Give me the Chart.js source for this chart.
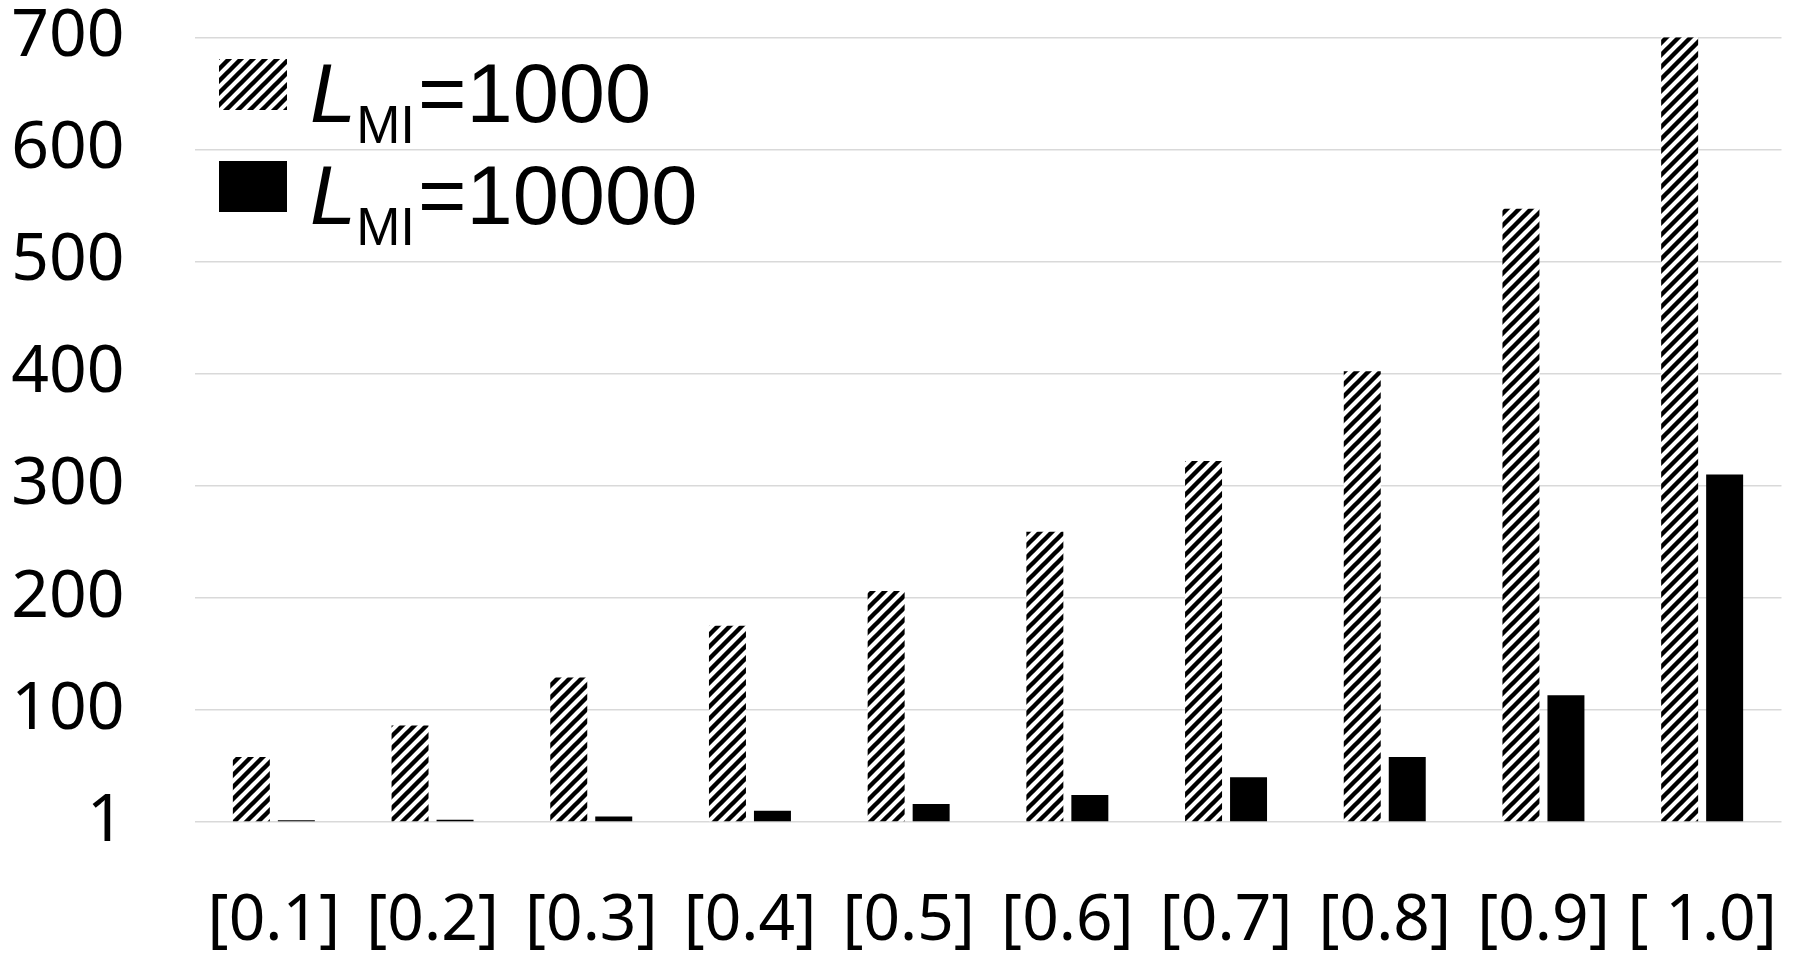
<!DOCTYPE html>
<html>
<head>
<meta charset="utf-8">
<script src="https://cdn.jsdelivr.net/npm/chart.js@4/dist/chart.umd.min.js"></script>
<style>
  html, body { margin: 0; padding: 0; background: #ffffff; }
  #wrap { position: relative; width: 1794px; height: 968px; }
  canvas { display: block; }
</style>
</head>
<body>
<div id="wrap"><canvas id="c" width="1794" height="968"></canvas></div>
<script>
// ---- data ----
const categories = ['[0.1]', '[0.2]', '[0.3]', '[0.4]', '[0.5]', '[0.6]', '[0.7]', '[0.8]', '[0.9]', '[ 1.0]'];
const seriesL1000 = [58, 86, 129, 175, 206, 259, 322, 402, 547, 700];
const seriesL10000 = [1.5, 2, 5, 10, 16, 24, 40, 58, 113, 310];
const seriesNames = ['L_MI=1000', 'L_MI=10000'];
const yTickValues = [0, 100, 200, 300, 400, 500, 600, 700];
const yTickLabels = ['1', '100', '200', '300', '400', '500', '600', '700'];

// ---- hatch pattern ----
function makeHatch() {
  const s = 12;
  const p = document.createElement('canvas');
  p.width = s; p.height = s;
  const g = p.getContext('2d');
  g.fillStyle = '#ffffff';
  g.fillRect(0, 0, s, s);
  g.strokeStyle = '#000000';
  g.lineWidth = 4.4;
  g.beginPath();
  g.moveTo(-s, s); g.lineTo(s, -s);
  g.moveTo(0, s); g.lineTo(s, 0);
  g.moveTo(0, 2 * s); g.lineTo(2 * s, 0);
  g.stroke();
  return document.getElementById('c').getContext('2d').createPattern(p, 'repeat');
}
const hatch = makeHatch();

const legendPlugin = {
  id: 'customLegend',
  afterDraw(chart) {
    const ctx = chart.ctx;
    const items = [
      { fill: hatch, top: 59 },
      { fill: '#000000', top: 161 }
    ];
    ctx.save();
    chart.data.datasets.forEach((ds, i) => {
      const it = items[i];
      ctx.fillStyle = it.fill;
      ctx.fillRect(219, it.top, 68, 51);
      const name = ds.label;            // e.g. L_MI=1000
      const main = name.split('_')[0];
      const rest = name.split('_')[1];
      const sub = rest.split('=')[0];
      const val = '=' + rest.split('=')[1];
      const base = it.top + 63;
      let x = 310;
      ctx.fillStyle = '#000000';
      ctx.textBaseline = 'alphabetic';
      ctx.textAlign = 'left';
      ctx.font = 'italic 83px "Liberation Sans", Arial, sans-serif';
      ctx.fillText(main, x, base);
      x += ctx.measureText(main).width;
      ctx.font = '53px "Liberation Sans", Arial, sans-serif';
      ctx.fillText(sub, x, base + 21);
      x += ctx.measureText(sub).width + 3;
      ctx.font = '83px "Liberation Sans", Arial, sans-serif';
      ctx.fillText(val, x, base);
    });
    ctx.restore();
  }
};

const tickFont = '"Noto Sans", "Open Sans", sans-serif';

const chart = new Chart(document.getElementById('c'), {
  type: 'bar',
  data: {
    labels: categories,
    datasets: [
      {
        label: seriesNames[0],
        data: seriesL1000,
        backgroundColor: hatch,
        borderWidth: 0,
        categoryPercentage: 0.567,
        barPercentage: 0.822
      },
      {
        label: seriesNames[1],
        data: seriesL10000,
        backgroundColor: '#000000',
        borderWidth: 0,
        categoryPercentage: 0.567,
        barPercentage: 0.822
      }
    ]
  },
  options: {
    responsive: false,
    animation: false,
    devicePixelRatio: 1,
    layout: { padding: { left: 0, right: 12.5, top: 37.3, bottom: 0 } },
    plugins: {
      legend: { display: false },
      tooltip: { enabled: false }
    },
    scales: {
      x: {
        grid: { display: false, drawTicks: false },
        border: { display: false },
        ticks: {
          color: '#000000',
          font: { family: tickFont, size: 64 },
          padding: 61,
          maxRotation: 0,
          autoSkip: false
        },
        afterFit(scale) {
          scale.height = 146;
          scale.paddingLeft = 0;
          scale.paddingRight = 0;
        }
      },
      y: {
        min: 0,
        max: 700,
        afterBuildTicks(scale) {
          scale.ticks = yTickValues.map(v => ({ value: v }));
        },
        grid: { color: '#d9d9d9', lineWidth: 1.4, drawTicks: false },
        border: { display: false },
        ticks: {
          color: '#000000',
          font: { family: tickFont, size: 66 },
          padding: 70,
          callback(value) {
            const idx = yTickValues.indexOf(value);
            return idx >= 0 ? yTickLabels[idx] : '';
          }
        },
        afterFit(scale) {
          scale.width = 194.5;
          scale.paddingTop = 0;
          scale.paddingBottom = 0;
        }
      }
    }
  },
  plugins: [legendPlugin]
});
</script>
</body>
</html>
